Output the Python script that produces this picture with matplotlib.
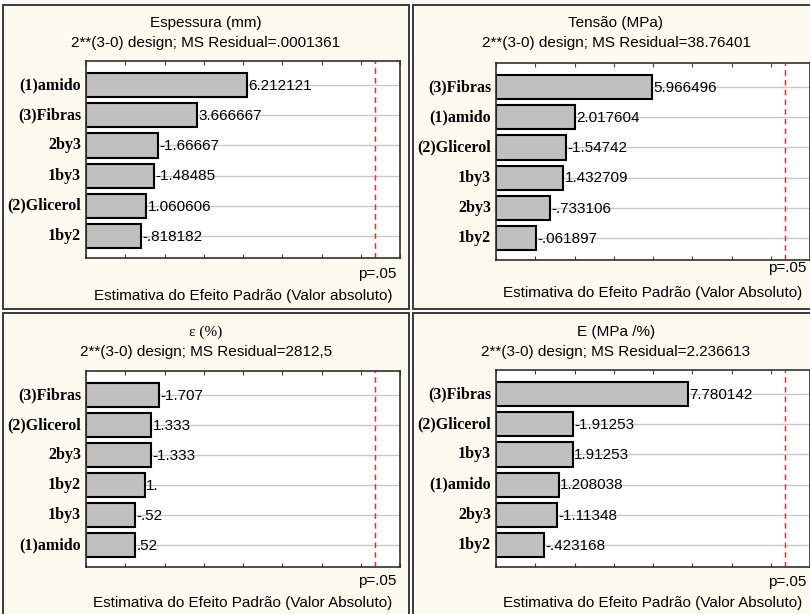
import numpy as np
import matplotlib
matplotlib.use("Agg")
import matplotlib.pyplot as plt
from matplotlib.patches import Rectangle

W, H = 810, 614

# panel data (labels in order top -> bottom, effect as printed by Statistica)
TITLES = ["Espessura (mm)", "Tensão (MPa)", "ε (%)", "E (MPa /%)"]
RESIDUALS = [".0001361", "38.76401", "2812,5", "2.236613"]
XLABELS = ["Estimativa do Efeito Padrão (Valor absoluto)",
           "Estimativa do Efeito Padrão (Valor Absoluto)",
           "Estimativa do Efeito Padrão (Valor Absoluto)",
           "Estimativa do Efeito Padrão (Valor Absoluto)"]

LABELS_1 = ["(1)amido", "(3)Fibras", "2by3", "1by3", "(2)Glicerol", "1by2"]
EFFECTS_1 = ["6.212121", "3.666667", "-1.66667", "-1.48485", "1.060606", "-.818182"]

LABELS_2 = ["(3)Fibras", "(1)amido", "(2)Glicerol", "1by3", "2by3", "1by2"]
EFFECTS_2 = ["5.966496", "2.017604", "-1.54742", "1.432709", "-.733106", "-.061897"]

LABELS_3 = ["(3)Fibras", "(2)Glicerol", "2by3", "1by2", "1by3", "(1)amido"]
EFFECTS_3 = ["-1.707", "1.333", "-1.333", "1.", "-.52", ".52"]

LABELS_4 = ["(3)Fibras", "(2)Glicerol", "1by3", "(1)amido", "2by3", "1by2"]
EFFECTS_4 = ["7.780142", "-1.91253", "1.91253", "1.208038", "-1.11348", "-.423168"]

T_CRIT = 12.706  # p=.05, df=1
XMIN, XMAX = -2, 14

# layout in pixels: frame box, axes box, text rows
PANELS = [
    dict(frame=(3, 5, 409, 309), axes=(86, 61, 400, 258), ty=23, sy=43, py=274, ly=296),
    dict(frame=(413, 5, 819, 309), axes=(496, 63, 810, 260), ty=23, sy=43, py=268, ly=293),
    dict(frame=(3, 313, 409, 619), axes=(86, 371, 400, 567), ty=332, sy=352, py=581, ly=603),
    dict(frame=(413, 313, 819, 619), axes=(496, 370, 810, 567), ty=332, sy=352, py=582, ly=603),
]

CREAM = "#fffaef"
SANS = "Liberation Sans"
SERIF = "Liberation Serif"

fig = plt.figure(figsize=(W / 100, H / 100), dpi=100)
fig.patch.set_facecolor("white")


def fx(x):
    return x / W


def fy(y):
    return 1 - y / H


all_labels = [LABELS_1, LABELS_2, LABELS_3, LABELS_4]
all_effects = [EFFECTS_1, EFFECTS_2, EFFECTS_3, EFFECTS_4]

for i, p in enumerate(PANELS):
    x0, y0, x1, y1 = p["frame"]
    fig.patches.append(Rectangle((fx(x0), fy(y1)), fx(x1 - x0), (y1 - y0) / H,
                                 transform=fig.transFigure, facecolor=CREAM,
                                 edgecolor="#3a3a3a", linewidth=1.4, zorder=-5))
    cx = (x0 + x1) / 2
    tfam = SERIF if i == 2 else SANS
    fig.text(fx(cx), fy(p["ty"]), TITLES[i], ha="center", va="center",
             fontsize=11, family=tfam)
    fig.text(fx(cx), fy(p["sy"]), "2**(3-0) design; MS Residual=" + RESIDUALS[i],
             ha="center", va="center", fontsize=11, family=SANS)

    a0, b0, a1, b1 = p["axes"]
    ax = fig.add_axes([fx(a0), fy(b1), fx(a1 - a0), (b1 - b0) / H])
    ax.set_zorder(2)
    ax.set_facecolor("white")

    labels = all_labels[i]
    strs = all_effects[i]
    vals = np.abs([float(s) for s in strs])
    ypos = np.arange(len(labels))

    for yy in ypos:
        ax.axhline(yy, color="#c8c8c8", lw=1, zorder=1)
    ax.barh(ypos, vals - XMIN, left=XMIN, height=0.8, color="#c0c0c0",
            edgecolor="black", linewidth=1.5, zorder=2)
    for yy, v, s in zip(ypos, vals, strs):
        ax.annotate(s, (v, yy), xytext=(1, -0.5), textcoords="offset points",
                    ha="left", va="center", fontsize=11, family=SANS, zorder=3)
    ax.axvline(T_CRIT, color="#ff2020", lw=1, ls=(0, (4, 3)), zorder=1)

    ax.set_xlim(XMIN, XMAX)
    ax.set_ylim(len(labels) - 1 + 0.73, -0.8)
    ax.set_yticks(ypos)
    ax.set_yticklabels(labels, fontsize=11.5, family=SERIF, fontweight="bold",
                       va="center")
    ax.tick_params(axis="y", length=0, pad=3.5)
    ax.set_xticks(np.arange(XMIN, XMAX + 1, 2))
    ax.tick_params(axis="x", direction="in", length=3, top=True,
                   labelbottom=False, color="#404040")
    for sp in ax.spines.values():
        sp.set_color("#303030")
        sp.set_linewidth(1.2)

    fig.text(fx(a1 - 4), fy(p["py"]), "p=.05", ha="right", va="center",
             fontsize=11, family=SANS)
    fig.text(fx((a0 + a1) / 2), fy(p["ly"]), XLABELS[i], ha="center",
             va="center", fontsize=11, family=SANS)

fig.savefig("out.png", dpi=100)
